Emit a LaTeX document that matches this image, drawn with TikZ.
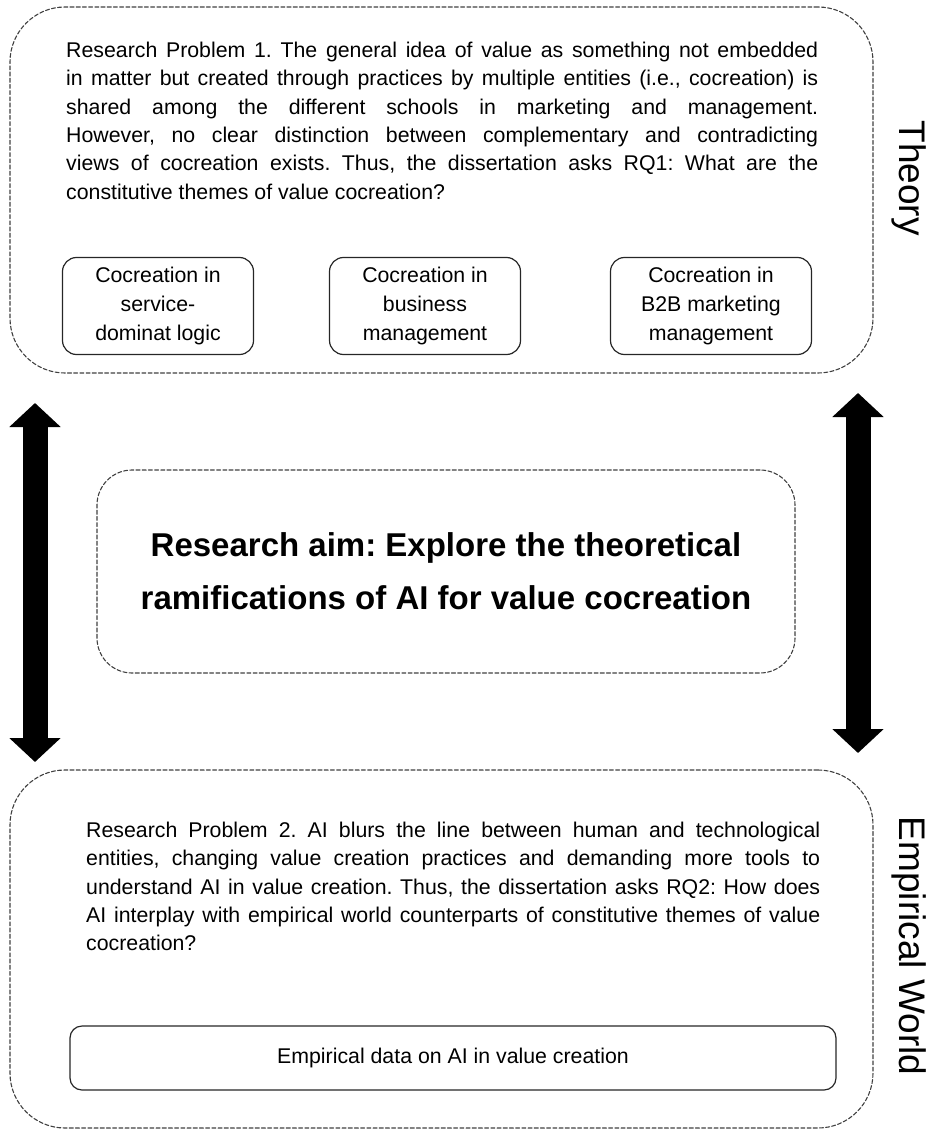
\documentclass[tikz,border=0pt]{standalone}
\usepackage{fontspec}
\setmainfont{Liberation Sans}
\usetikzlibrary{arrows.meta}
\frenchspacing

\begin{document}
\begin{tikzpicture}[x=1pt,y=-1pt,line cap=round,
  outerbox/.style={draw=black!75,line width=1.1pt,dash pattern=on 4pt off 2.2pt,rounded corners=55pt},
  subbox/.style={draw=black!85,line width=1.2pt,rounded corners=14pt,minimum width=191pt,minimum height=97pt,align=center,inner sep=0pt,font=\fontsize{21.3}{29}\selectfont},
  para/.style={anchor=north west,inner sep=0pt,align=justify,font=\fontsize{21.3}{28.3}\selectfont},
  sidelabel/.style={rotate=-90,inner sep=0pt,font=\fontsize{37}{40}\selectfont},
  bigarrow/.style={line width=25pt,line cap=butt,{Triangle[width=50pt,length=24pt]}-{Triangle[width=50pt,length=24pt]}}]
\useasboundingbox (0,0) rectangle (939,1134);

% theory part
\node[outerbox,minimum width=863pt,minimum height=366pt] (theorybox) at (441.5,190) {};
\node[para,text width=752pt] (rp1) at (66,42) {Research Problem 1. The general idea of value as something not embedded\linebreak
in matter but created through practices by multiple entities (i.e., cocreation) is\linebreak
shared among the different schools in marketing and management.\linebreak
However, no clear distinction between complementary and contradicting\linebreak
views of cocreation exists. Thus, the dissertation asks RQ1: What are the\linebreak
constitutive themes of value cocreation?};
\node[subbox] (sdl) at (158,306) {Cocreation in\\service-\\dominat logic};
\node[subbox] (bm) at (425,306) {Cocreation in\\business\\management};
\node[subbox,minimum width=201pt] (b2b) at (711,306) {Cocreation in\\B2B marketing\\management};
\node[sidelabel] (theory) at (909,178) {Theory};

% research aim
\node[outerbox,rounded corners=35pt,minimum width=698pt,minimum height=203pt,align=center,
  font=\bfseries\fontsize{33}{53}\selectfont] (aim) at (446,571.5)
  {Research aim: Explore the theoretical\\ramifications of AI for value cocreation};

% empirical part
\node[outerbox,minimum width=863pt,minimum height=358pt] (worldbox) at (441.5,949) {};
\node[para,text width=734pt] (rp2) at (86,822) {Research Problem 2. AI blurs the line between human and technological\linebreak
entities, changing value creation practices and demanding more tools to\linebreak
understand AI in value creation. Thus, the dissertation asks RQ2: How does\linebreak
AI interplay with empirical world counterparts of constitutive themes of value\linebreak
cocreation?};
\node[subbox,rounded corners=12pt,minimum width=766pt,minimum height=64pt] (data) at (453,1058) {Empirical data on AI in value creation};
\node[sidelabel] (world) at (909,946) {Empirical World};

% arrows
\coordinate (ltop) at (35,403);
\coordinate (lbot) at (35,762);
\coordinate (rtop) at (858,393);
\coordinate (rbot) at (858,753);
\draw[bigarrow] (ltop) -- (lbot);
\draw[bigarrow] (rtop) -- (rbot);
\end{tikzpicture}
\end{document}
